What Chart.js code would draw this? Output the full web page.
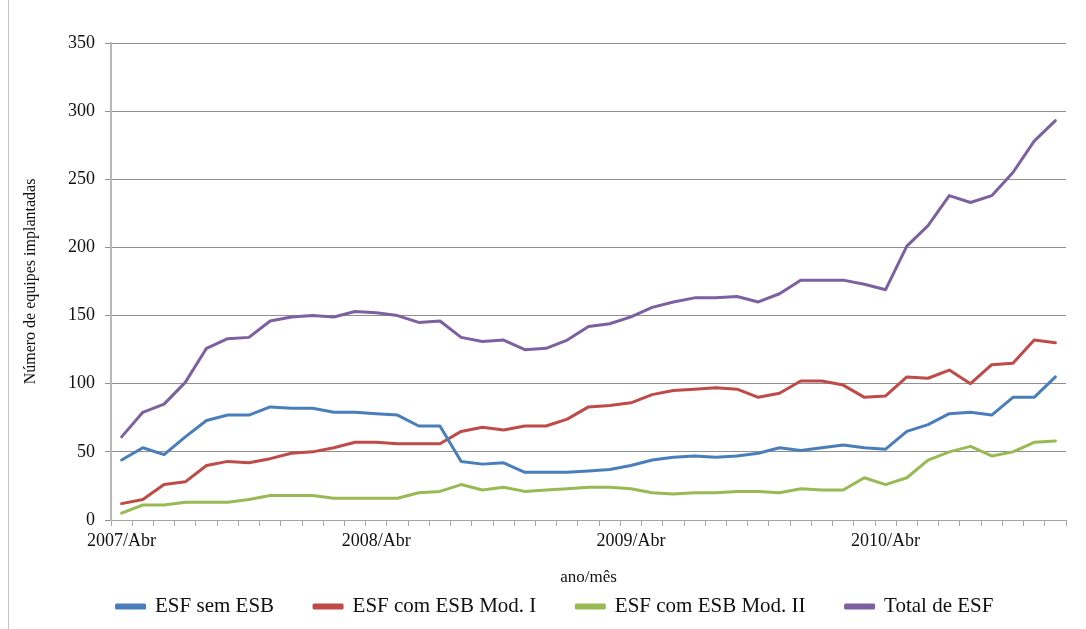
<!DOCTYPE html>
<html lang="pt-BR">
<head>
<meta charset="utf-8">
<title>Equipes de Saúde da Família implantadas</title>
<script src="https://cdn.jsdelivr.net/npm/chart.js@4.4.1/dist/chart.umd.min.js"></script>
<style>
  html, body { margin: 0; padding: 0; background: #ffffff; }
  #wrap { position: relative; width: 1086px; height: 629px; }
</style>
</head>
<body>
<div id="wrap"><canvas id="chart" width="1086" height="629"></canvas></div>
<script>
// Meses (ano/mês) de abril de 2007 a dezembro de 2010
const meses = [
  '2007/Abr','2007/Mai','2007/Jun','2007/Jul','2007/Ago','2007/Set','2007/Out','2007/Nov','2007/Dez',
  '2008/Jan','2008/Fev','2008/Mar','2008/Abr','2008/Mai','2008/Jun','2008/Jul','2008/Ago','2008/Set',
  '2008/Out','2008/Nov','2008/Dez','2009/Jan','2009/Fev','2009/Mar','2009/Abr','2009/Mai','2009/Jun',
  '2009/Jul','2009/Ago','2009/Set','2009/Out','2009/Nov','2009/Dez','2010/Jan','2010/Fev','2010/Mar',
  '2010/Abr','2010/Mai','2010/Jun','2010/Jul','2010/Ago','2010/Set','2010/Out','2010/Nov','2010/Dez'
];

// Número de equipes implantadas por modalidade
const esfSemEsb = [44,53,48,61,73,77,77,83,82,82,79,79,78,77,69,69,43,41,42,35,35,35,36,37,40,44,46,47,46,47,49,53,51,53,55,53,52,65,70,78,79,77,90,90,105];
const esfComEsbModI = [12,15,26,28,40,43,42,45,49,50,53,57,57,56,56,56,65,68,66,69,69,74,83,84,86,92,95,96,97,96,90,93,102,102,99,90,91,105,104,110,100,114,115,132,130];
const esfComEsbModII = [5,11,11,13,13,13,15,18,18,18,16,16,16,16,20,21,26,22,24,21,22,23,24,24,23,20,19,20,20,21,21,20,23,22,22,31,26,31,44,50,54,47,50,57,58];
const totalEsf = [61,79,85,101,126,133,134,146,149,150,149,153,152,150,145,146,134,131,132,125,126,132,142,144,149,156,160,163,163,164,160,166,176,176,176,173,169,201,216,238,233,238,255,278,293];

// Rótulos do eixo vertical
const yTicks = [0, 50, 100, 150, 200, 250, 300, 350];

const serif = '"Liberation Serif", "Times New Roman", serif';
const textColor = '#111111';

function serie(label, data, color) {
  return {
    label, data,
    borderColor: color,
    backgroundColor: color,
    borderWidth: 3,
    pointRadius: 0,
    pointHoverRadius: 0,
    tension: 0,
    borderJoinStyle: 'round',
    borderCapStyle: 'round',
    fill: false
  };
}

// Moldura fina à esquerda da área do gráfico
const moldura = {
  id: 'moldura',
  afterDraw(chart) {
    const ctx = chart.ctx;
    ctx.save();
    ctx.strokeStyle = '#c4c4c4';
    ctx.lineWidth = 1;
    ctx.beginPath();
    ctx.moveTo(8.5, 0);
    ctx.lineTo(8.5, chart.height);
    ctx.stroke();
    ctx.restore();
  }
};

new Chart(document.getElementById('chart'), {
  type: 'line',
  data: {
    labels: meses,
    datasets: [
      serie('ESF sem ESB', esfSemEsb, '#4A7EBB'),
      serie('ESF com ESB Mod. I', esfComEsbModI, '#BE4B48'),
      serie('ESF com ESB Mod. II', esfComEsbModII, '#98B954'),
      serie('Total de ESF', totalEsf, '#7D60A0')
    ]
  },
  options: {
    responsive: false,
    animation: false,
    devicePixelRatio: 1,
    layout: { padding: { top: 43, right: 20, left: 44, bottom: 2 } },
    plugins: {
      tooltip: { enabled: false },
      legend: {
        position: 'bottom',
        align: 'center',
        labels: {
          font: { family: serif, size: 21 },
          color: textColor,
          boxWidth: 28,
          boxHeight: 3,
          padding: 40
        }
      }
    },
    scales: {
      x: {
        type: 'category',
        offset: true,
        afterFit(scale) { scale.height = 36; },
        grid: {
          offset: true,
          drawOnChartArea: false,
          drawTicks: true,
          tickLength: 6,
          color: '#a6a6a6',
          lineWidth: 1
        },
        border: { color: '#a6a6a6', width: 1 },
        ticks: {
          autoSkip: false,
          maxRotation: 0,
          minRotation: 0,
          padding: 4,
          color: textColor,
          font: { family: serif, size: 18 },
          callback(value, index) { return index % 12 === 0 ? meses[index] : ''; }
        },
        title: {
          display: true,
          text: 'ano/mês',
          color: textColor,
          font: { family: serif, size: 17 },
          padding: { top: 0, bottom: -32 }
        }
      },
      y: {
        min: 0,
        max: 350,
        afterFit(scale) { scale.width = 67; },
        afterBuildTicks(scale) { scale.ticks = yTicks.map(v => ({ value: v })); },
        grid: {
          color: '#8f8f8f',
          lineWidth: 1,
          tickLength: 6,
          drawTicks: true
        },
        border: { color: '#b8b8b8', width: 2 },
        ticks: {
          padding: 10,
          color: textColor,
          font: { family: serif, size: 18 }
        },
        title: {
          display: true,
          text: 'Número de equipes implantadas',
          color: textColor,
          font: { family: serif, size: 16 },
          padding: { top: -22.6, bottom: 0 }
        }
      }
    }
  },
  plugins: [moldura]
});
</script>
</body>
</html>
